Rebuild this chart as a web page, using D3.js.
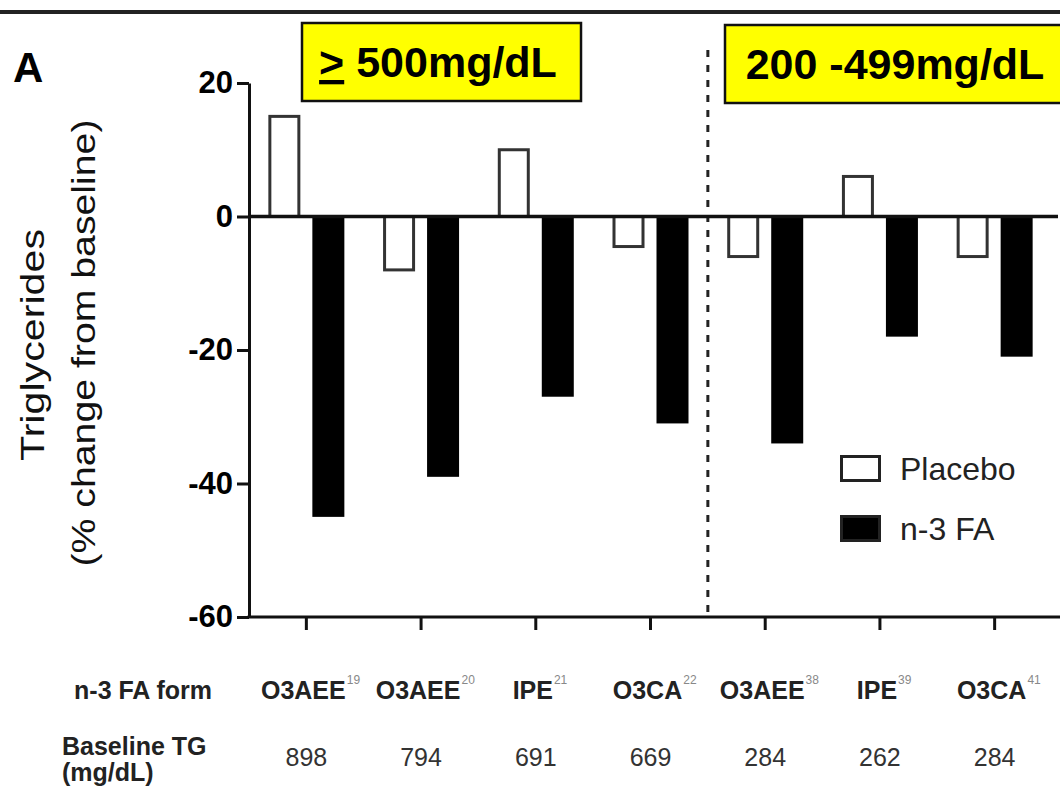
<!DOCTYPE html>
<html>
<head>
<meta charset="utf-8">
<script src="https://cdn.jsdelivr.net/npm/d3@7"></script>
<style>
	body { margin: 0; background: #fff; }
	svg { display: block; }
	text { font-family: "Liberation Sans", Arial, sans-serif; }
</style>
</head>
<body>
<svg id="chart" width="1060" height="788"></svg>
<script>
// Data
var categories = ['O3AEE', 'O3AEE', 'IPE', 'O3CA', 'O3AEE', 'IPE', 'O3CA'];
var refs = ['19', '20', '21', '22', '38', '39', '41'];
var baselineTG = ['898', '794', '691', '669', '284', '262', '284'];
var placebo = [15, -8, 10, -4.5, -6, 6, -6];
var n3fa = [-45, -39, -27, -31, -34, -18, -21];
var yTicks = [20, 0, -20, -40, -60];
var seriesKeys = ['Placebo', 'n-3 FA'];
var groupLabels = ['500mg/dL', '200 -499mg/dL'];

var svg = d3.select('#chart');

var x = d3.scaleBand()
	.domain(d3.range(categories.length))
	.range([249, 1052])
	.padding(0);

var sub = d3.scaleBand()
	.domain(seriesKeys)
	.range([x.bandwidth() / 2 - 38, x.bandwidth() / 2 + 38])
	.paddingInner(12 / 44);

var y = d3.scaleLinear()
	.domain([-60, 20])
	.range([617, 83]);

// top rule
svg.append('line')
	.attr('x1', 0).attr('x2', 1060)
	.attr('y1', 12).attr('y2', 12)
	.attr('stroke', '#222').attr('stroke-width', 4);

// panel letter
svg.append('text')
	.attr('x', 13).attr('y', 82)
	.attr('font-size', 42).attr('font-weight', 'bold')
	.text('A');

// bars
var rows = categories.map(function (c, i) {
	return { i: i, values: [placebo[i], n3fa[i]] };
});

var groups = svg.selectAll('.grp').data(rows).enter().append('g')
	.attr('class', 'grp')
	.attr('transform', function (d) { return 'translate(' + x(d.i) + ',0)'; });

groups.selectAll('rect')
	.data(function (d) { return seriesKeys.map(function (k, j) { return { key: k, v: d.values[j] }; }); })
	.enter().append('rect')
	.attr('x', function (d) { return sub(d.key) + (d.key === 'Placebo' ? 1.5 : 0); })
	.attr('width', function (d) { return sub.bandwidth() - (d.key === 'Placebo' ? 3 : 0); })
	.attr('y', function (d) { return Math.min(y(d.v), y(0)); })
	.attr('height', function (d) { return Math.abs(y(d.v) - y(0)); })
	.attr('fill', function (d) { return d.key === 'Placebo' ? '#fff' : '#000'; })
	.attr('stroke', function (d) { return d.key === 'Placebo' ? '#333' : 'none'; })
	.attr('stroke-width', 3);

// dashed divider between the two TG groups
var divX = (x(3) + x.bandwidth() / 2 + x(4) + x.bandwidth() / 2) / 2;
svg.append('line')
	.attr('x1', divX).attr('x2', divX)
	.attr('y1', 50).attr('y2', y(-60))
	.attr('stroke', '#222').attr('stroke-width', 3)
	.attr('stroke-dasharray', '7,8');

// zero line
svg.append('line')
	.attr('x1', 249).attr('x2', 1058)
	.attr('y1', y(0)).attr('y2', y(0))
	.attr('stroke', '#111').attr('stroke-width', 3.5);

// y axis
var yAxis = svg.append('g')
	.attr('transform', 'translate(249,0)')
	.call(d3.axisLeft(y).tickValues(yTicks).tickFormat(function (d) { return String(d); })
		.tickSize(12).tickSizeOuter(0).tickPadding(4));
yAxis.select('.domain').attr('stroke', '#111').attr('stroke-width', 3);
yAxis.selectAll('.tick line').attr('stroke', '#111').attr('stroke-width', 3);
yAxis.selectAll('.tick text')
	.attr('font-size', 31).attr('font-weight', 'bold')
	.attr('font-family', '"Liberation Sans", Arial, sans-serif')
	.attr('fill', '#000');

// bottom axis
svg.append('line')
	.attr('x1', 247.5).attr('x2', 1060)
	.attr('y1', y(-60)).attr('y2', y(-60))
	.attr('stroke', '#111').attr('stroke-width', 3);
var xAxis = svg.append('g')
	.attr('transform', 'translate(0,' + y(-60) + ')')
	.call(d3.axisBottom(x).tickSize(13).tickFormat(''));
xAxis.select('.domain').remove();
xAxis.selectAll('.tick line').attr('stroke', '#111').attr('stroke-width', 3);

// y title
svg.append('text')
	.attr('transform', 'translate(44,345) rotate(-90)')
	.attr('text-anchor', 'middle')
	.attr('font-size', 33).attr('fill', '#111')
	.attr('textLength', 232).attr('lengthAdjust', 'spacingAndGlyphs')
	.text('Triglycerides');
svg.append('text')
	.attr('transform', 'translate(95,343) rotate(-90)')
	.attr('text-anchor', 'middle')
	.attr('font-size', 33).attr('fill', '#111')
	.attr('textLength', 447).attr('lengthAdjust', 'spacingAndGlyphs')
	.text('(% change from baseline)');

// legend
var legend = svg.append('g').attr('transform', 'translate(840,455)');
seriesKeys.forEach(function (k, j) {
	legend.append('rect')
		.attr('x', 1.5).attr('y', j * 60 + 1.5)
		.attr('width', 38).attr('height', 24)
		.attr('fill', j === 0 ? '#fff' : '#000')
		.attr('stroke', '#222').attr('stroke-width', 3);
	legend.append('text')
		.attr('x', 60).attr('y', j * 60 + 25)
		.attr('font-size', 32).attr('fill', '#222')
		.text(k);
});

// yellow group labels
var boxes = [
	{ x: 302, y: 23, w: 279, h: 78, cx: 438 },
	{ x: 725, y: 25, w: 340, h: 78, cx: 895 }
];
boxes.forEach(function (b, j) {
	svg.append('rect')
		.attr('x', b.x).attr('y', b.y).attr('width', b.w).attr('height', b.h)
		.attr('fill', '#ffff00').attr('stroke', '#111').attr('stroke-width', 2.5);
	var t = svg.append('text')
		.attr('x', b.cx).attr('y', b.y + 54)
		.attr('text-anchor', 'middle')
		.attr('font-family', 'Lato, "Open Sans", sans-serif')
		.attr('font-weight', 'bold').attr('font-size', 43)
		.attr('fill', '#000');
	if (j === 0) {
		t.append('tspan').attr('text-decoration', 'underline').text('>');
		t.append('tspan').text(' ' + groupLabels[j]);
	} else {
		t.text(groupLabels[j]);
	}
});

// table under the axis
svg.append('text')
	.attr('x', 212).attr('y', 699).attr('text-anchor', 'end')
	.attr('font-size', 25).attr('font-weight', 'bold').attr('fill', '#222')
	.text('n-3 FA form');
svg.append('text')
	.attr('x', 62).attr('y', 755)
	.attr('font-size', 25).attr('font-weight', 'bold').attr('fill', '#222')
	.text('Baseline TG');
svg.append('text')
	.attr('x', 62).attr('y', 781)
	.attr('font-size', 25).attr('font-weight', 'bold').attr('fill', '#222')
	.text('(mg/dL)');

categories.forEach(function (c, i) {
	var cx = x(i) + x.bandwidth() / 2;
	var t = svg.append('text')
		.attr('x', cx - 3).attr('y', 699)
		.attr('text-anchor', 'middle')
		.attr('font-size', 25).attr('font-weight', 'bold').attr('fill', '#222')
		.text(c);
	var w = t.node().getComputedTextLength();
	svg.append('text')
		.attr('x', cx - 3 + w / 2 + 1).attr('y', 684)
		.attr('font-size', 12).attr('fill', '#888')
		.text(refs[i]);
	svg.append('text')
		.attr('x', cx).attr('y', 766)
		.attr('text-anchor', 'middle')
		.attr('font-size', 25).attr('fill', '#333')
		.text(baselineTG[i]);
});
</script>
</body>
</html>
